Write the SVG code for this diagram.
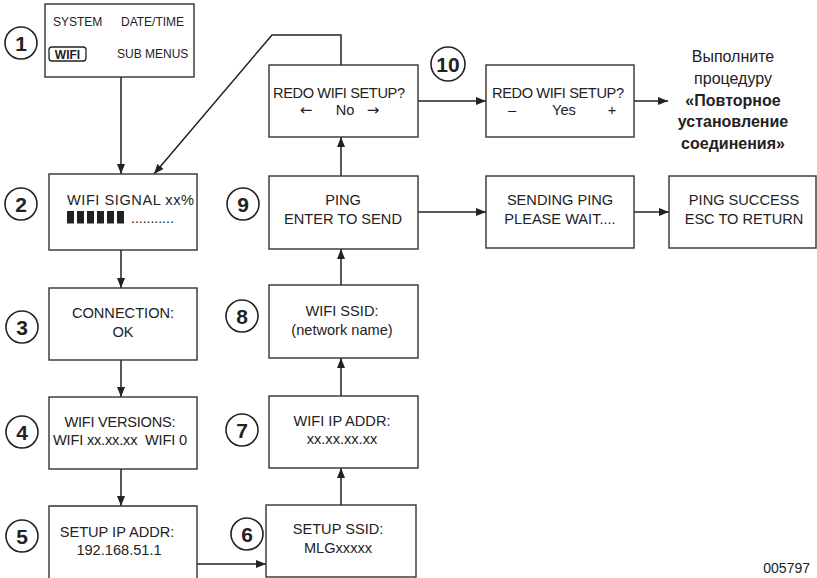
<svg xmlns="http://www.w3.org/2000/svg" width="817" height="578" viewBox="0 0 817 578">
<defs>
<style>
.box{fill:#fff;stroke:#333;stroke-width:1.4}
.t{font-family:"Liberation Sans",Arial,sans-serif;font-size:14.6px;fill:#222;text-anchor:middle}
.s{font-family:"Liberation Sans",Arial,sans-serif;font-size:12px;fill:#222}
.ar{font-family:"DejaVu Sans",sans-serif;font-size:15px;fill:#222;text-anchor:middle}
.num circle{fill:#fff;stroke:#222;stroke-width:1.6}
.num text{font-family:"Liberation Sans",Arial,sans-serif;font-size:21px;font-weight:bold;fill:#222;text-anchor:middle}
.c{fill:none;stroke:#222;stroke-width:1.5}
.ru{font-family:"Liberation Sans",Arial,sans-serif;font-size:16px;fill:#222;text-anchor:middle}
</style>
<marker id="ah" viewBox="0 0 10 8" refX="10" refY="4" markerWidth="10" markerHeight="8" markerUnits="userSpaceOnUse" orient="auto">
<path d="M0,0 L10,4 L0,8 Z" fill="#222"/>
</marker>
</defs>
<rect width="817" height="578" fill="#fff"/>

<g id="connectors">
<line class="c" x1="121" y1="77" x2="121" y2="174" marker-end="url(#ah)"/>
<polyline class="c" points="341,65 341,35 272,35 154,174" marker-end="url(#ah)"/>
<line class="c" x1="121" y1="250" x2="121" y2="288" marker-end="url(#ah)"/>
<line class="c" x1="121" y1="360" x2="121" y2="397" marker-end="url(#ah)"/>
<line class="c" x1="121" y1="469" x2="121" y2="506" marker-end="url(#ah)"/>
<line class="c" x1="197" y1="564" x2="266" y2="564" marker-end="url(#ah)"/>
<line class="c" x1="341" y1="505" x2="341" y2="468" marker-end="url(#ah)"/>
<line class="c" x1="341" y1="396" x2="341" y2="358" marker-end="url(#ah)"/>
<line class="c" x1="341" y1="285" x2="341" y2="249" marker-end="url(#ah)"/>
<line class="c" x1="341" y1="176" x2="341" y2="137" marker-end="url(#ah)"/>
<line class="c" x1="418" y1="101" x2="486" y2="101" marker-end="url(#ah)"/>
<line class="c" x1="634" y1="101" x2="668" y2="101" marker-end="url(#ah)"/>
<line class="c" x1="418" y1="212" x2="486" y2="212" marker-end="url(#ah)"/>
<line class="c" x1="634" y1="212" x2="669" y2="212" marker-end="url(#ah)"/>
</g>

<g id="node1">
<rect class="box" x="45" y="4" width="149" height="73"/>
<text class="s" x="53" y="26">SYSTEM</text>
<text class="s" x="121" y="26">DATE/TIME</text>
<rect x="49" y="47" width="37" height="14" rx="3" fill="none" stroke="#222" stroke-width="1.3"/>
<text class="s" x="67.5" y="58.5" text-anchor="middle" font-weight="bold">WIFI</text>
<text class="s" x="117" y="58">SUB MENUS</text>
</g>
<g class="num" id="num1"><circle cx="21" cy="43" r="16"/><text x="21" y="50.5">1</text></g>

<g id="node2">
<rect class="box" x="49" y="174" width="148" height="76"/>
<text class="t" x="67" y="205" style="text-anchor:start" textLength="127">WIFI SIGNAL xx%</text>
<g fill="#222">
<rect x="67" y="211" width="7" height="12.5"/>
<rect x="77" y="211" width="7" height="12.5"/>
<rect x="87" y="211" width="7" height="12.5"/>
<rect x="97" y="211" width="7" height="12.5"/>
<rect x="107" y="211" width="7" height="12.5"/>
<rect x="117" y="211" width="7" height="12.5"/>
</g>
<text class="s" x="131" y="223" style="font-size:14px">...........</text>
</g>
<g class="num" id="num2"><circle cx="21" cy="204" r="16"/><text x="21" y="211.5">2</text></g>

<g id="node3">
<rect class="box" x="49" y="288" width="148" height="72"/>
<text class="t" x="123" y="318">CONNECTION:</text>
<text class="t" x="123" y="337">OK</text>
</g>
<g class="num" id="num3"><circle cx="22" cy="327" r="16"/><text x="22" y="334.5">3</text></g>

<g id="node4">
<rect class="box" x="49" y="397" width="148" height="72"/>
<text class="t" x="120" y="427" textLength="111">WIFI VERSIONS:</text>
<text class="t" x="120" y="445" xml:space="preserve" textLength="134">WIFI xx.xx.xx  WIFI 0</text>
</g>
<g class="num" id="num4"><circle cx="22" cy="432" r="16"/><text x="22" y="439.5">4</text></g>

<g id="node5">
<path class="box" d="M49,580 L49,506 L197,506 L197,580"/>
<text class="t" x="117" y="537">SETUP IP ADDR:</text>
<text class="t" x="119" y="555">192.168.51.1</text>
</g>
<g class="num" id="num5"><circle cx="22" cy="536" r="16"/><text x="22" y="543.5">5</text></g>

<g id="node6">
<rect class="box" x="266" y="505" width="150" height="72"/>
<text class="t" x="338" y="534">SETUP SSID:</text>
<text class="t" x="338" y="553">MLGxxxxx</text>
</g>
<g class="num" id="num6"><circle cx="247" cy="534" r="16"/><text x="247" y="541.5">6</text></g>

<g id="node7">
<rect class="box" x="269" y="396" width="149" height="72"/>
<text class="t" x="342" y="426">WIFI IP ADDR:</text>
<text class="t" x="342" y="444">xx.xx.xx.xx</text>
</g>
<g class="num" id="num7"><circle cx="242" cy="430" r="16"/><text x="242" y="437.5">7</text></g>

<g id="node8">
<rect class="box" x="269" y="285" width="149" height="73"/>
<text class="t" x="342" y="316">WIFI SSID:</text>
<text class="t" x="342" y="335">(network name)</text>
</g>
<g class="num" id="num8"><circle cx="242" cy="316" r="16"/><text x="242" y="323.5">8</text></g>

<g id="node9">
<rect class="box" x="269" y="176" width="149" height="73"/>
<text class="t" x="343" y="205">PING</text>
<text class="t" x="343" y="224">ENTER TO SEND</text>
</g>
<g class="num" id="num9"><circle cx="243" cy="204" r="16"/><text x="243" y="211.5">9</text></g>

<g id="nodeRedoNo">
<rect class="box" x="269" y="65" width="149" height="72"/>
<text class="t" x="339" y="98" textLength="132">REDO WIFI SETUP?</text>
<text class="ar" x="306" y="115">←</text>
<text class="t" x="345" y="115">No</text>
<text class="ar" x="373" y="115">→</text>
</g>

<g class="num" id="num10"><circle cx="448" cy="64" r="17"/><text x="448" y="71.5">10</text></g>

<g id="node10">
<rect class="box" x="486" y="65" width="148" height="72"/>
<text class="t" x="558" y="98" textLength="132">REDO WIFI SETUP?</text>
<text class="t" x="512" y="115">–</text>
<text class="t" x="564" y="115">Yes</text>
<text class="t" x="612" y="115">+</text>
</g>

<g id="procedureText">
<text class="ru" x="733" y="62">Выполните</text>
<text class="ru" x="733" y="84">процедуру</text>
<text class="ru" x="733" y="106" font-weight="bold">«Повторное</text>
<text class="ru" x="733" y="127" font-weight="bold">установление</text>
<text class="ru" x="733" y="149" font-weight="bold">соединения»</text>
</g>

<g id="nodeSending">
<rect class="box" x="486" y="176" width="148" height="72"/>
<text class="t" x="560" y="205">SENDING PING</text>
<text class="t" x="560" y="224">PLEASE WAIT....</text>
</g>

<g id="nodeSuccess">
<rect class="box" x="669" y="176" width="147" height="72"/>
<text class="t" x="744" y="205">PING SUCCESS</text>
<text class="t" x="744" y="224">ESC TO RETURN</text>
</g>

<text x="810" y="573" style="font-family:'Liberation Sans',Arial,sans-serif;font-size:14px;fill:#222;text-anchor:end">005797</text>
</svg>
